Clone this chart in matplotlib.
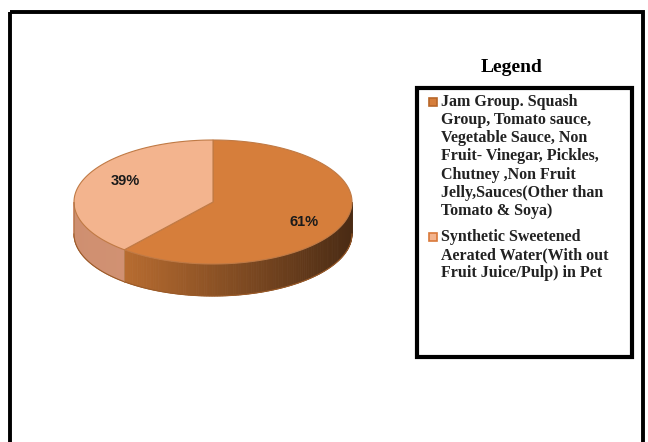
import numpy as np
import matplotlib
matplotlib.use("Agg")
import matplotlib.pyplot as plt
from matplotlib.patches import Polygon, Rectangle

values = [61, 39]
labels = [
    "Jam Group. Squash\nGroup, Tomato sauce,\nVegetable Sauce, Non\nFruit- Vinegar, Pickles,\nChutney ,Non Fruit\nJelly,Sauces(Other than\nTomato & Soya)",
    "Synthetic Sweetened\nAerated Water(With out\nFruit Juice/Pulp) in Pet",
]
top_colors = ["#D67E3B", "#F3B48E"]
marker_edges = ["#B8672A", "#D9793A"]
legend_title = "Legend"

W, H = 648, 442
fig = plt.figure(figsize=(W / 100, H / 100), dpi=100)
ax = fig.add_axes([0, 0, 1, 1])
ax.set_xlim(0, W)
ax.set_ylim(H, 0)
ax.axis("off")

# pie geometry (pixels)
cx, cy, a, b, depth = 213, 202, 139, 62, 32


def ell(t):
    t = np.radians(t)
    return cx + a * np.cos(t), cy - b * np.sin(t)


def mix(c1, c2, f):
    c1 = np.array(matplotlib.colors.to_rgb(c1))
    c2 = np.array(matplotlib.colors.to_rgb(c2))
    return c1 + (c2 - c1) * f


total = sum(values)
angles = [90]
for v in values:
    angles.append(angles[-1] - v / total * 360)

side_cols = [("#B86C30", "#4A2B14"), ("#CF8F70", "#D99C80")]

# side faces (front half only, theta in [-180, 0])
for i in range(len(values)):
    hi, lo = angles[i], angles[i + 1]
    s, e = max(lo, -180), min(hi, 0)
    if s >= e:
        continue
    ts = np.linspace(s, e, 120)
    for k in range(len(ts) - 1):
        x1, y1 = ell(ts[k])
        x2, y2 = ell(ts[k + 1])
        f = ((x1 + x2) / 2 - (cx - a)) / (2 * a)
        if i == 0:
            f0 = (ell(s)[0] - (cx - a)) / (2 * a)
            f = (f - f0) / (1 - f0)
        col = mix(side_cols[i][0], side_cols[i][1], np.clip(f, 0, 1))
        ax.add_patch(Polygon([(x1, y1), (x2, y2), (x2, y2 + depth), (x1, y1 + depth)],
                             closed=True, facecolor=col, edgecolor=col, lw=0.6))
    xs, ys = ell(ts)
    ax.plot(xs, ys + depth, color="#9A5A28", lw=0.8)

# vertical edges
for t in [angles[1], -180]:
    x, y = ell(t)
    ax.plot([x, x], [y, y + depth], color="#B07848", lw=0.5)

# top faces
for i in range(len(values)):
    ts = np.linspace(angles[i + 1], angles[i], 200)
    xs, ys = ell(ts)
    pts = [(cx, cy)] + list(zip(xs, ys))
    ax.add_patch(Polygon(pts, closed=True, facecolor=top_colors[i],
                         edgecolor="#C07A45", lw=0.8))

# percentage labels
offsets = [(0, 5), (4, -6)]
for i, v in enumerate(values):
    mid = (angles[i] + angles[i + 1]) / 2
    x, y = ell(mid)
    lx = cx + (x - cx) * 0.7 + offsets[i][0]
    ly = cy + (y - cy) * 0.7 + offsets[i][1]
    ax.text(lx, ly, f"{v}%", ha="center", va="center", fontsize=10.5,
            fontweight="bold", family="Liberation Sans", color="#1a1a1a")

# outer frame
ax.add_patch(Rectangle((10, 12), 633, 470, fill=False, edgecolor="black", lw=2.8))

# legend
ax.text(512, 67, legend_title, ha="center", va="center", fontsize=14,
        fontweight="bold", family="Liberation Serif")
ax.add_patch(Rectangle((417, 88), 215, 269, fill=False, edgecolor="black", lw=3))
ys_leg = [94, 229]
for i, lab in enumerate(labels):
    ax.add_patch(Rectangle((429, ys_leg[i] + 4), 8, 8, facecolor=top_colors[i],
                           edgecolor=marker_edges[i], lw=1.2))
    ax.text(441, ys_leg[i], lab, ha="left", va="top", fontsize=11.5,
            fontweight="bold", family="Liberation Serif", linespacing=1.18,
            color="#222222")

fig.savefig("out.png", dpi=100)
